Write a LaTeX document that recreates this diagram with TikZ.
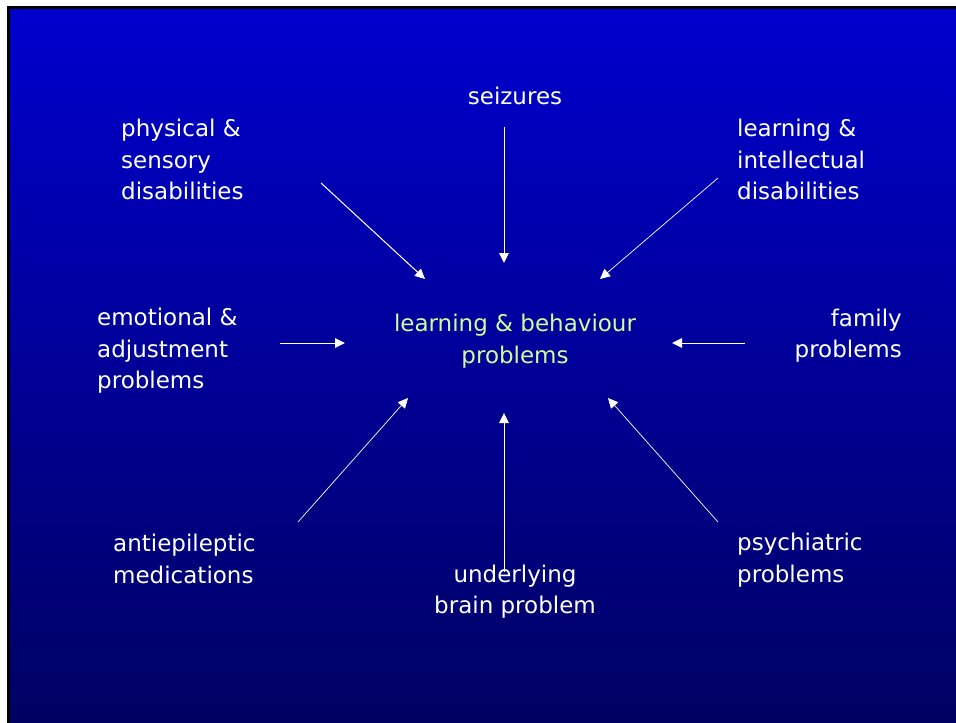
\documentclass[tikz,border=0pt]{standalone}
\usepackage{fontspec}
\setmainfont{DejaVu Sans}
\usetikzlibrary{arrows.meta}
\definecolor{slidetop}{RGB}{0,0,206}
\definecolor{slidebot}{RGB}{0,0,96}
\definecolor{centregreen}{RGB}{204,255,153}
\tikzset{
  lbl/.style={text=white, inner sep=0pt, font=\fontsize{23}{31.5}\selectfont},
  lblleft/.style={lbl, align=left},
  lblcentre/.style={lbl, align=center},
  lblright/.style={lbl, align=right},
  feed/.style={draw=white, line width=1pt, -{Triangle[length=10pt,width=9.5pt]}},
  feedthin/.style={feed, line width=0.7pt},
}
\begin{document}
\begin{tikzpicture}[x=1pt,y=1pt]
\useasboundingbox (0,0) rectangle (956,-723);
\fill[white] (0,0) rectangle (956,-723);
\shade[top color=slidetop, bottom color=slidebot] (9,-8) rectangle (966,-733);
\fill[black] (7,-6) rectangle (966,-9);
\fill[black] (7,-6) rectangle (10,-733);

% labels
\node[lblcentre] (seiz) at (515,-96) {seizures};
\node[lblleft, anchor=west] (phys) at (121,-159.5) {physical \&\\sensory\\disabilities};
\node[lblleft, anchor=west] (intel) at (737,-159.5) {learning \&\\intellectual\\disabilities};
\node[lblleft, anchor=west] (emot) at (97,-351) {emotional \&\\adjustment\\problems};
\node[lblright, anchor=east] (fam) at (902,-335.5) {family\\problems};
\node[lblleft, anchor=west] (aed) at (113,-559) {antiepileptic\\medications};
\node[lblleft, anchor=west] (psych) at (737,-560) {psychiatric\\problems};
\node[lblcentre] (brain) at (515,-591.5) {underlying\\brain problem};
\node[lblcentre, text=centregreen] (centre) at (515,-341) {learning \& behaviour\\problems};

% connector end points
\coordinate (seizA) at (504,-127);  \coordinate (seizB) at (504,-263);
\coordinate (physA) at (321,-183);  \coordinate (physB) at (425,-279);
\coordinate (intelA) at (718,-178); \coordinate (intelB) at (600,-279);
\coordinate (emotA) at (280,-343);  \coordinate (emotB) at (345,-343);
\coordinate (famA) at (745,-343);   \coordinate (famB) at (672,-343);
\coordinate (aedA) at (298,-522);   \coordinate (aedB) at (408,-398);
\coordinate (brainA) at (504,-572); \coordinate (brainB) at (504,-413);
\coordinate (psychA) at (718,-522); \coordinate (psychB) at (608,-398);

\draw[feed] (seizA) -- (seizB);
\draw[feed] (physA) -- (physB);
\draw[feedthin] (intelA) -- (intelB);
\draw[feed] (emotA) -- (emotB);
\draw[feed] (famA) -- (famB);
\draw[feedthin] (aedA) -- (aedB);
\draw[feed] (brainA) -- (brainB);
\draw[feedthin] (psychA) -- (psychB);
\end{tikzpicture}
\end{document}
